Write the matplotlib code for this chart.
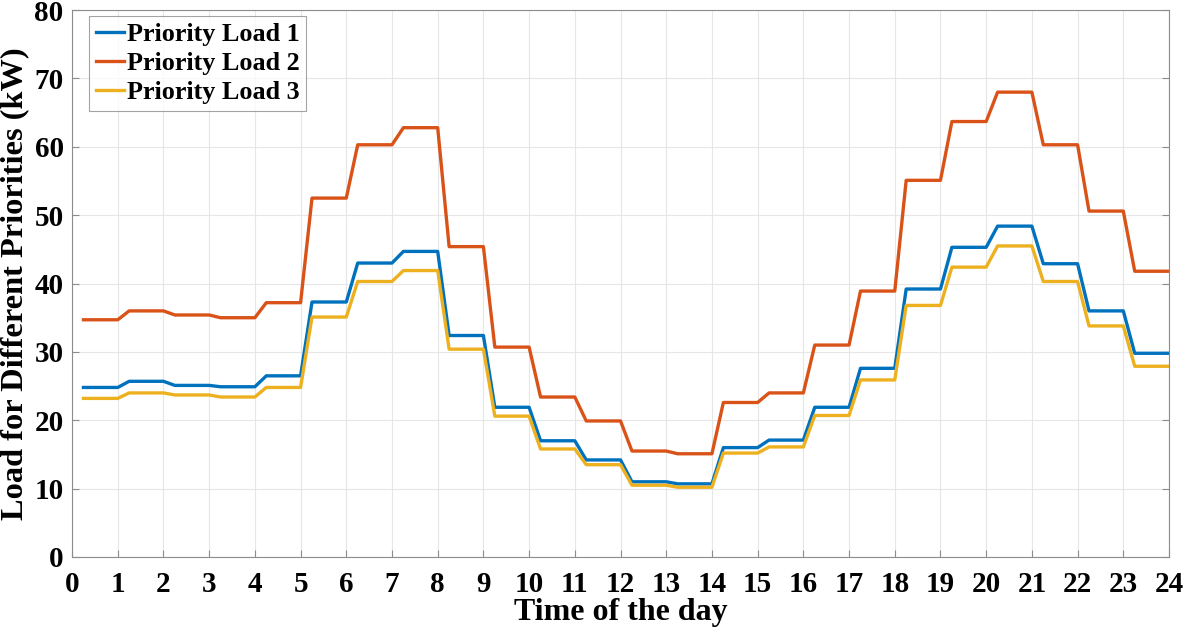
import numpy as np
import matplotlib.pyplot as plt

plt.rcParams['font.family'] = 'serif'
plt.rcParams['font.serif'] = ['Liberation Serif', 'DejaVu Serif']
plt.rcParams['font.weight'] = 'bold'
plt.rcParams['axes.labelweight'] = 'bold'

# hourly load per priority class (kW), hour 0..23
hours = list(range(24))
load_p1 = [24.8, 25.7, 25.1, 24.9, 26.5, 37.3, 43.0, 44.7, 32.4, 21.9,
           17.0, 14.2, 11.0, 10.7, 16.0, 17.1, 21.9, 27.6, 39.2, 45.3,
           48.4, 42.9, 36.0, 29.8]
load_p2 = [34.7, 36.0, 35.4, 35.0, 37.2, 52.5, 60.3, 62.8, 45.4, 30.7,
           23.4, 19.9, 15.5, 15.1, 22.6, 24.0, 31.0, 38.9, 55.1, 63.7,
           68.0, 60.3, 50.6, 41.8]
load_p3 = [23.2, 24.0, 23.7, 23.4, 24.8, 35.1, 40.3, 41.9, 30.4, 20.6,
           15.8, 13.5, 10.5, 10.2, 15.2, 16.1, 20.7, 25.9, 36.8, 42.4,
           45.5, 40.3, 33.8, 27.9]
labels = ['Priority Load 1', 'Priority Load 2', 'Priority Load 3']
colors = ['#0072BD', '#D95319', '#EDB120']


def hold_profile(vals):
    # each hourly value is held from h+0.25 to h+1, with a short ramp in between
    t, y = [], []
    for h, v in zip(hours, vals):
        t += [h + 0.25, h + 1]
        y += [v, v]
    return t, y


fig = plt.figure(figsize=(11.85, 6.32), dpi=100)
ax = fig.add_axes([0.0608, 0.1187, 0.9257, 0.8653])

for vals, lab, c in zip([load_p1, load_p2, load_p3], labels, colors):
    t, y = hold_profile(vals)
    ax.plot(t, y, color=c, lw=2.4, label=lab)

ax.set_xlim(0, 24)
ax.set_ylim(0, 80)
ax.set_xticks(np.arange(0, 25, 1))
ax.set_yticks(np.arange(0, 81, 10))
ax.grid(True, color='#e6e6e6', lw=0.8)
ax.set_axisbelow(True)
for s in ax.spines.values():
    s.set_color('#8c8c8c')
    s.set_linewidth(0.8)
ax.tick_params(direction='in', length=5, color='#8c8c8c', labelsize=21,
               top=False, right=True)
ax.tick_params(axis='x', pad=10)
ax.tick_params(axis='y', pad=6)
for lbl in ax.get_xticklabels() + ax.get_yticklabels():
    lbl.set_fontweight('bold')

ax.set_xlabel('Time of the day', fontsize=23, labelpad=0)
ax.set_ylabel('Load for Different Priorities (kW)', fontsize=23.3, labelpad=4)

leg = ax.legend(loc='upper left', bbox_to_anchor=(0.0155, 0.989), fontsize=18.8,
                frameon=True, fancybox=False, edgecolor='#8c8c8c',
                handlelength=1.1, handletextpad=0.1, labelspacing=0.22,
                borderpad=0.25, borderaxespad=0.0)
leg.get_frame().set_linewidth(0.8)

fig.savefig('out.png', dpi=100)
